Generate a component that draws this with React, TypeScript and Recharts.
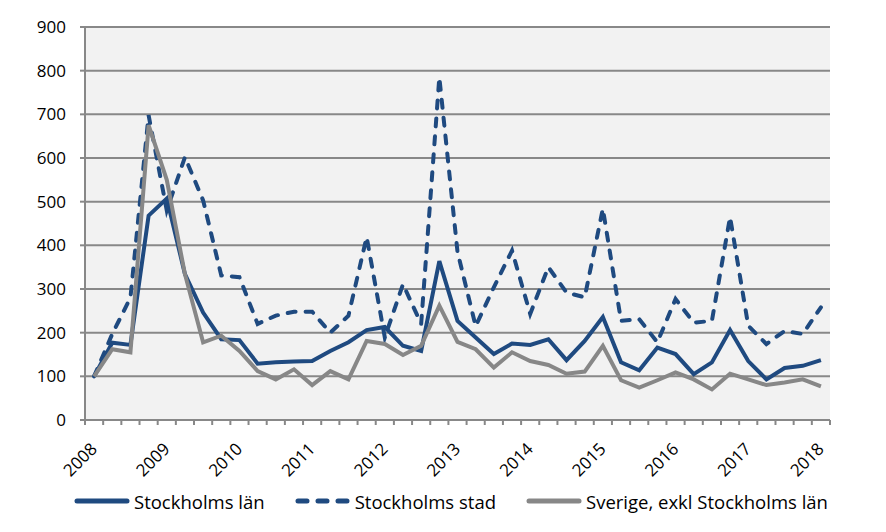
import React from 'react';
import { LineChart, Line, XAxis, YAxis, CartesianGrid, Legend } from 'recharts';

// quarters 2008 K1 .. 2018 K1
const periods = [
  '2008K1', '2008K2', '2008K3', '2008K4',
  '2009K1', '2009K2', '2009K3', '2009K4',
  '2010K1', '2010K2', '2010K3', '2010K4',
  '2011K1', '2011K2', '2011K3', '2011K4',
  '2012K1', '2012K2', '2012K3', '2012K4',
  '2013K1', '2013K2', '2013K3', '2013K4',
  '2014K1', '2014K2', '2014K3', '2014K4',
  '2015K1', '2015K2', '2015K3', '2015K4',
  '2016K1', '2016K2', '2016K3', '2016K4',
  '2017K1', '2017K2', '2017K3', '2017K4',
  '2018K1',
];

const yearLabels = ['2008', '2009', '2010', '2011', '2012', '2013', '2014', '2015', '2016', '2017', '2018'];

const stockholmsLan = [
  100, 177, 172, 468, 507, 334, 246, 185, 183, 129, 132, 134, 135, 158, 178, 206, 213, 170, 158, 364,
  227, 189, 151, 175, 172, 185, 137, 181, 236, 132, 114, 166, 151, 105, 132, 206, 135, 93, 119, 124, 137,
];

const stockholmsStad = [
  100, 197, 280, 698, 480, 602, 503, 331, 327, 220, 239, 248, 248, 200, 239, 419, 189, 311, 220, 785,
  385, 215, 304, 388, 243, 350, 292, 281, 484, 227, 231, 178, 277, 223, 227, 465, 216, 174, 204, 197, 258,
];

const sverigeExkl = [
  100, 162, 155, 675, 550, 334, 178, 193, 158, 112, 93, 116, 80, 112, 93, 181, 174, 149, 170, 262,
  179, 162, 120, 155, 135, 126, 106, 111, 170, 91, 74, 91, 109, 93, 70, 106, 93, 80, 86, 93, 77,
];

const yTicks = [0, 100, 200, 300, 400, 500, 600, 700, 800, 900];

const data = periods.map((p, i) => ({
  period: p,
  x: i + 0.5,
  lan: stockholmsLan[i],
  stad: stockholmsStad[i],
  sverige: sverigeExkl[i],
}));

// tick marks sit on the borders between quarters
const boundaryTicks = periods.map((_, i) => i).concat(periods.length);

const FONT = '"Open Sans", "DejaVu Sans", sans-serif';
const BLUE = '#1F4A80';
const GREY = '#878787';
const AXIS = '#888888';

const YearTick: React.FC<any> = ({ x, y, payload, width }) => {
  const k = payload.value;
  if (k % 4 !== 0 || k >= periods.length) return <g />;
  const step = (width || 745) / periods.length;
  const ax = x + step / 2 + 4;
  const ay = y + 23;
  return (
    <text
      x={ax}
      y={ay}
      textAnchor="end"
      fontSize={17}
      fontFamily={FONT}
      fill="#000"
      transform={`rotate(-45 ${ax} ${ay})`}
    >
      {yearLabels[k / 4]}
    </text>
  );
};

const LegendContent: React.FC<any> = () => {
  const items = [
    { label: 'Stockholms län', color: BLUE, dash: undefined as string | undefined, gap: 30 },
    { label: 'Stockholms stad', color: BLUE, dash: '9 11', gap: 30 },
    { label: 'Sverige, exkl Stockholms län', color: GREY, dash: undefined, gap: 0 },
  ];
  return (
    <div style={{ display: 'flex', alignItems: 'center', paddingLeft: 74, paddingTop: 16, height: 24 }}>
      {items.map((it) => (
        <div key={it.label} style={{ display: 'flex', alignItems: 'center', marginRight: it.gap }}>
          <svg width={56} height={10}>
            <line
              x1={3}
              y1={5}
              x2={53}
              y2={5}
              stroke={it.color}
              strokeWidth={5}
              strokeDasharray={it.dash}
              strokeLinecap="round"
            />
          </svg>
          <span style={{ fontFamily: FONT, fontSize: 18.5, color: '#000', marginLeft: 4, whiteSpace: 'nowrap' }}>
            {it.label}
          </span>
        </div>
      ))}
    </div>
  );
};

const App: React.FC = () => {
  return (
    <div style={{ position: 'absolute', left: 0, top: 0, width: 886, height: 532, background: '#fff' }}>
      <LineChart
        width={886}
        height={532}
        data={data}
        margin={{ top: 27, right: 56, left: 0, bottom: 19 }}
      >
        <CartesianGrid
          vertical={false}
          stroke={AXIS}
          strokeWidth={2}
          fill="#F2F2F2"
          fillOpacity={1}
        />
        <XAxis
          type="number"
          dataKey="x"
          domain={[0, periods.length]}
          ticks={boundaryTicks}
          interval={0}
          height={53}
          axisLine={{ stroke: AXIS, strokeWidth: 2 }}
          tickLine={{ stroke: AXIS, strokeWidth: 2 }}
          tickSize={5}
          tick={<YearTick />}
        />
        <YAxis
          domain={[0, 900]}
          ticks={yTicks}
          interval={0}
          width={85}
          axisLine={{ stroke: AXIS, strokeWidth: 2 }}
          tickLine={{ stroke: AXIS, strokeWidth: 2 }}
          tickSize={5}
          tickMargin={14}
          tick={{ fontSize: 17, fontFamily: FONT, fill: '#000' }}
        />
        <Legend verticalAlign="bottom" content={<LegendContent />} />
        <Line
          type="linear"
          dataKey="lan"
          name="Stockholms län"
          stroke={BLUE}
          strokeWidth={4}
          dot={false}
          isAnimationActive={false}
        />
        <Line
          type="linear"
          dataKey="stad"
          name="Stockholms stad"
          stroke={BLUE}
          strokeWidth={4}
          strokeDasharray="8 10"
          strokeLinecap="round"
          dot={false}
          isAnimationActive={false}
        />
        <Line
          type="linear"
          dataKey="sverige"
          name="Sverige, exkl Stockholms län"
          stroke={GREY}
          strokeWidth={4}
          dot={false}
          isAnimationActive={false}
        />
      </LineChart>
    </div>
  );
};

export default App;
